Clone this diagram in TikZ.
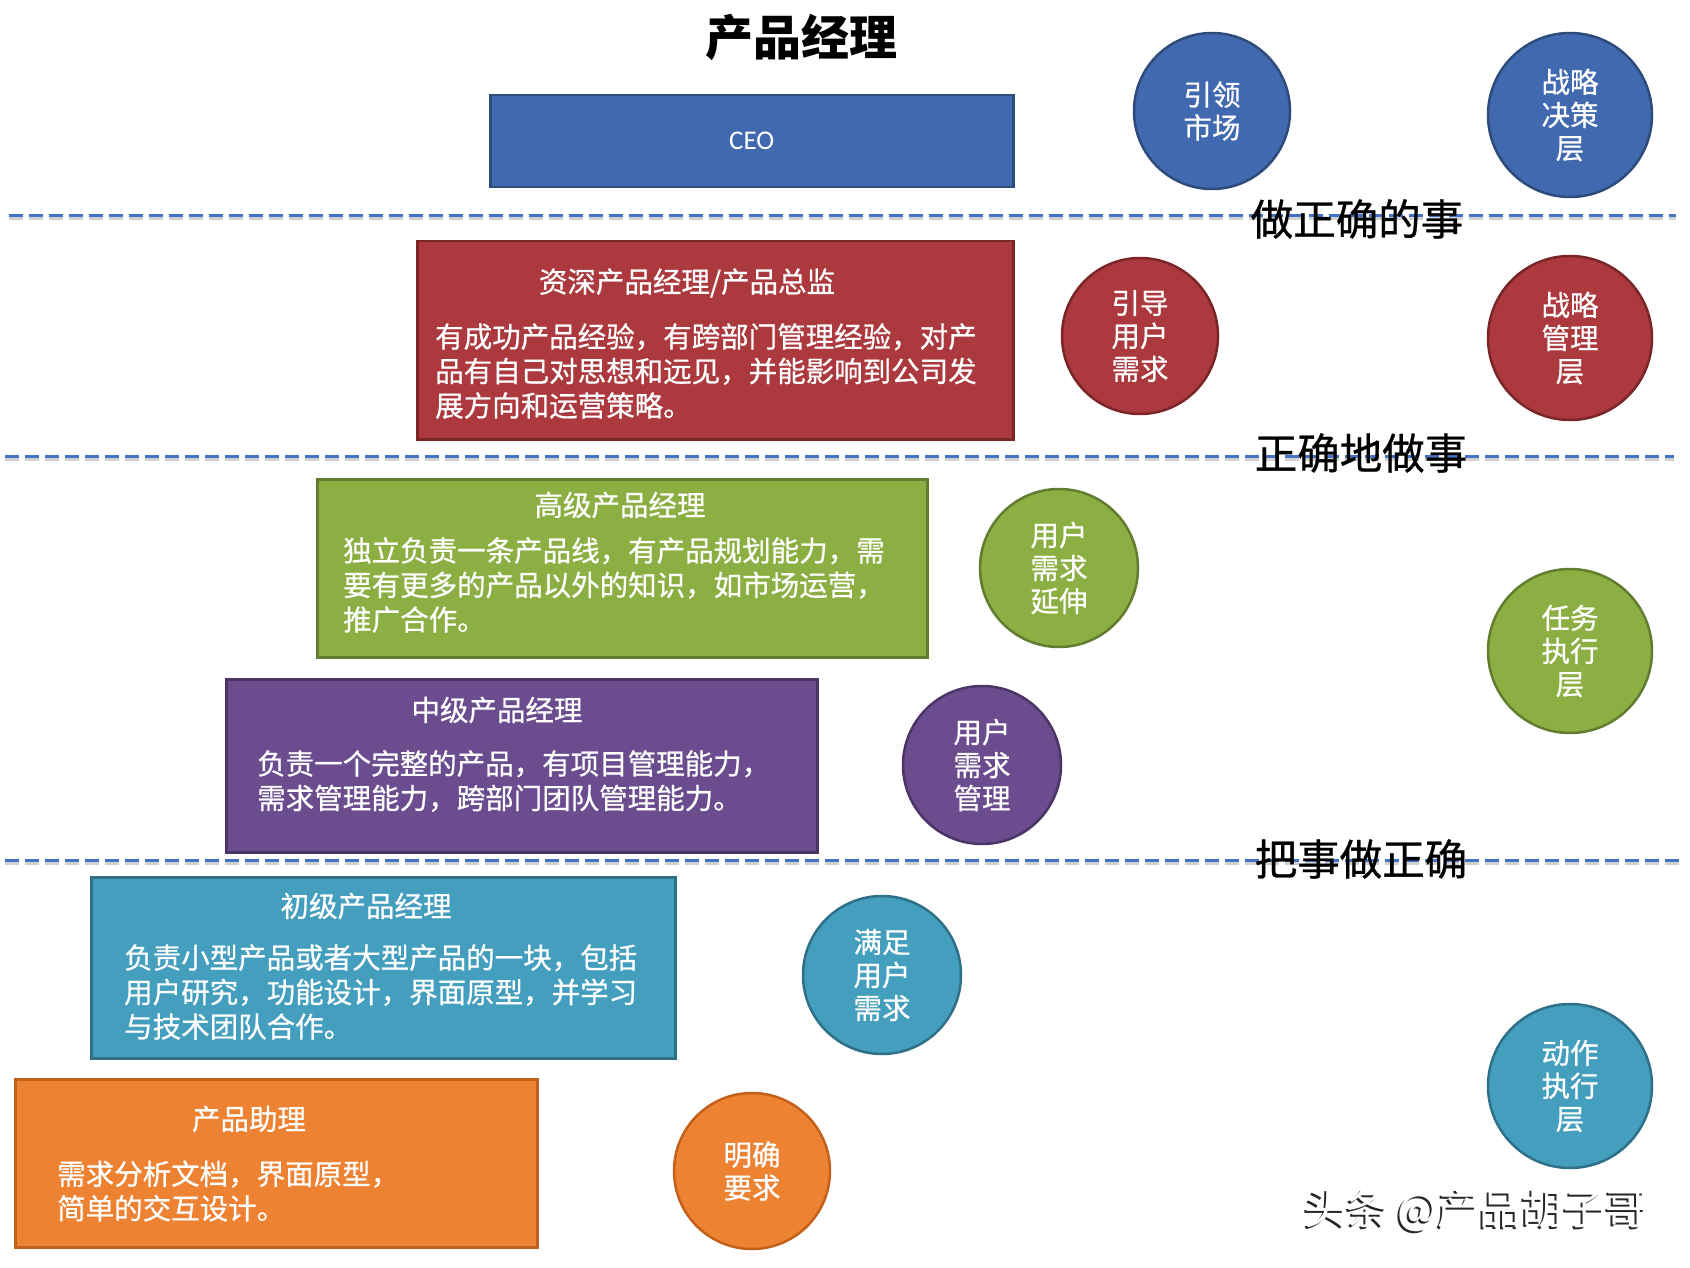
\documentclass[tikz,border=0pt]{standalone}
\usepackage{fontspec}
\setmainfont{Noto Sans CJK SC}
\newfontfamily\cjkb[FakeBold=0.7]{Noto Sans CJK SC}
\newfontfamily\latinfont{Carlito}
\definecolor{bluef}{HTML}{4169AF}
\definecolor{blued}{HTML}{2D4C7C}
\definecolor{redf}{HTML}{AB393D}
\definecolor{redd}{HTML}{7A2528}
\definecolor{greenf}{HTML}{8BAF42}
\definecolor{greend}{HTML}{627D2F}
\definecolor{purpf}{HTML}{6A4C8F}
\definecolor{purpd}{HTML}{4B3566}
\definecolor{tealf}{HTML}{449EBE}
\definecolor{teald}{HTML}{2F7089}
\definecolor{orangef}{HTML}{EE8233}
\definecolor{oranged}{HTML}{C2601C}
\definecolor{dashc}{HTML}{4472C4}
\begin{document}
\begin{tikzpicture}[x=1pt,y=-1pt,
  lvbox/.style={rectangle, line width=2.5pt, inner sep=0pt, anchor=north west},
  bub/.style={circle, line width=2.5pt, inner sep=0pt, text=white, align=center,
    font=\cjkb\fontsize{28.5}{33}\selectfont},
  boxtitle/.style={text=white, inner sep=0pt, font=\cjkb\fontsize{28.5}{34}\selectfont},
  boxbody/.style={text=white, inner sep=0pt, anchor=west, align=left, font=\cjkb\fontsize{28.5}{34.5}\selectfont},
  sepline/.style={dashc, line width=3pt, dash pattern=on 14pt off 6pt},
  sepshadow/.style={black!18, line width=3pt, dash pattern=on 14pt off 6pt},
  seplabel/.style={text=black, inner sep=0pt, font=\cjkb\fontsize{42.5}{46}\selectfont}
]
\useasboundingbox (0,0) rectangle (1690,1268);

% title
\node[inner sep=0pt, font=\fontsize{48}{52}\selectfont\bfseries] (title) at (801,37) {产品经理};

% separator lines
\coordinate (l1a) at (9,216);   \coordinate (l1b) at (1676,216);
\coordinate (l2a) at (5,456);   \coordinate (l2b) at (1674,456);
\coordinate (l3a) at (5,860);   \coordinate (l3b) at (1680,860);
\draw[sepshadow] ([yshift=-3pt]l1a) -- ([yshift=-3pt]l1b);
\draw[sepshadow] ([yshift=-3pt]l2a) -- ([yshift=-3pt]l2b);
\draw[sepshadow] ([yshift=-3pt]l3a) -- ([yshift=-3pt]l3b);
\draw[sepline] (l1a) -- (l1b);
\draw[sepline] (l2a) -- (l2b);
\draw[sepline] (l3a) -- (l3b);
\node[seplabel] (lab1) at (1357,219) {做正确的事};
\node[seplabel] (lab2) at (1361,453) {正确地做事};
\node[seplabel] (lab3) at (1361,859) {把事做正确};

% CEO
\node[lvbox, fill=bluef, draw=blued, minimum width=523pt, minimum height=92pt] (ceo) at (489,94) {};
\node[text=white, inner sep=0pt, font=\latinfont\fontsize{27}{30}\selectfont] (ceot) at (ceo.center) {CEO};

% senior
\node[lvbox, fill=redf, draw=redd, minimum width=596pt, minimum height=198pt] (senior) at (416,240) {};
\node[boxtitle] (seniort) at (687,283) {资深产品经理/产品总监};
\node[boxbody] (seniorb) at (435,371) {有成功产品经验，有跨部门管理经验，对产\\品有自己对思想和远见，并能影响到公司发\\展方向和运营策略。};

% high
\node[lvbox, fill=greenf, draw=greend, minimum width=610pt, minimum height=178pt] (high) at (316,478) {};
\node[boxtitle] (hight) at (620,505) {高级产品经理};
\node[boxbody] (highb) at (343,585) {独立负责一条产品线，有产品规划能力，需\\要有更多的产品以外的知识，如市场运营，\\推广合作。};

% middle
\node[lvbox, fill=purpf, draw=purpd, minimum width=591pt, minimum height=173pt] (mid) at (225,678) {};
\node[boxtitle] (midt) at (497,710) {中级产品经理};
\node[boxbody] (midb) at (257,781) {负责一个完整的产品，有项目管理能力，\\需求管理能力，跨部门团队管理能力。};

% junior
\node[lvbox, fill=tealf, draw=teald, minimum width=584pt, minimum height=181pt] (jun) at (90,876) {};
\node[boxtitle] (junt) at (366,906) {初级产品经理};
\node[boxbody] (junb) at (124,992) {负责小型产品或者大型产品的一块，包括\\用户研究，功能设计，界面原型，并学习\\与技术团队合作。};

% assistant
\node[lvbox, fill=orangef, draw=oranged, minimum width=522pt, minimum height=168pt] (asst) at (14,1078) {};
\node[boxtitle] (asstt) at (249,1119) {产品助理};
\node[boxbody] (asstb) at (57,1191) {需求分析文档，界面原型，\\简单的交互设计。};

% bubbles
\node[bub, fill=bluef, draw=blued, minimum size=156pt] (c1) at (1212,111) {引领\\市场};
\node[bub, fill=bluef, draw=blued, minimum size=164pt] (r1) at (1570,115) {战略\\决策\\层};
\node[bub, fill=redf, draw=redd, minimum size=156pt] (c2) at (1140,336) {引导\\用户\\需求};
\node[bub, fill=redf, draw=redd, minimum size=164pt] (r2) at (1570,338) {战略\\管理\\层};
\node[bub, fill=greenf, draw=greend, minimum size=158pt] (c3) at (1059,568) {用户\\需求\\延伸};
\node[bub, fill=greenf, draw=greend, minimum size=164pt] (r3) at (1570,651) {任务\\执行\\层};
\node[bub, fill=purpf, draw=purpd, minimum size=158pt] (c4) at (982,765) {用户\\需求\\管理};
\node[bub, fill=tealf, draw=teald, minimum size=158pt] (c5) at (882,975) {满足\\用户\\需求};
\node[bub, fill=tealf, draw=teald, minimum size=164pt] (r4) at (1570,1086) {动作\\执行\\层};
\node[bub, fill=orangef, draw=oranged, minimum size=156pt] (c6) at (752,1171) {明确\\要求};

% watermark
\node[text=black!85, inner sep=0pt, font=\fontsize{42}{46}\selectfont] (wms) at (1474,1212) {头条 @产品胡子哥};
\node[text=white, inner sep=0pt, font=\fontsize{42}{46}\selectfont] (wm) at (1476,1210) {头条 @产品胡子哥};
\end{tikzpicture}
\end{document}
